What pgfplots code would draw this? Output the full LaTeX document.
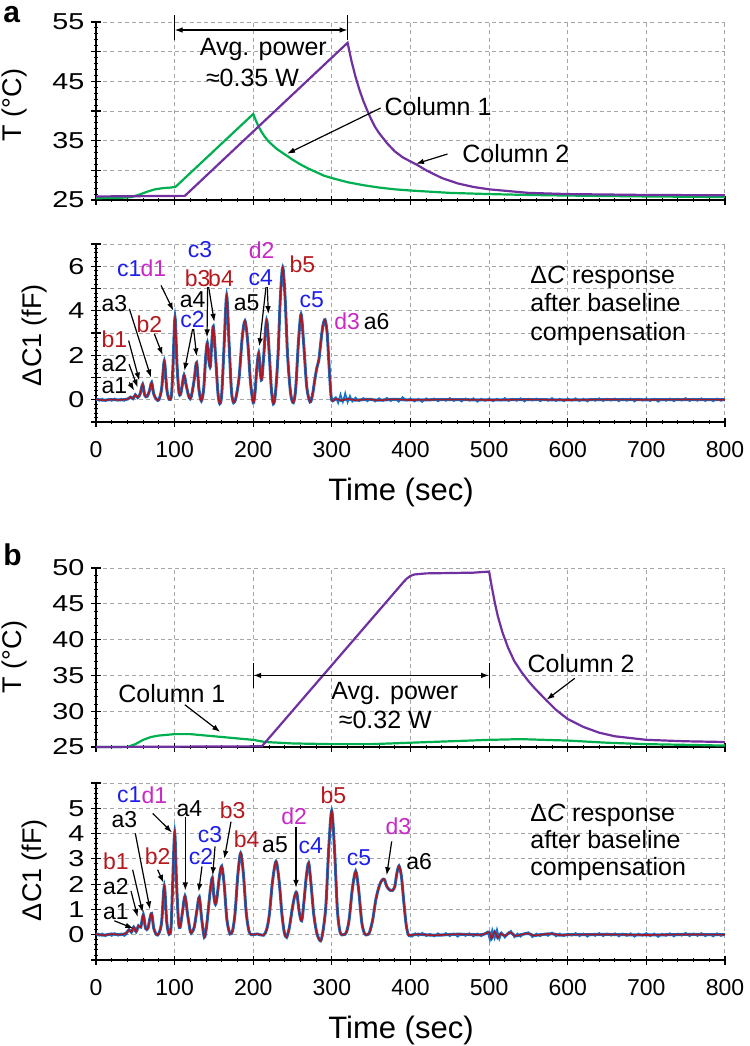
\documentclass[border=0pt]{standalone}
\usepackage{pgfplots}
\pgfplotsset{compat=1.18}
\usepackage{pgfplotstable}
\usepackage{fontspec}
\setmainfont{Liberation Sans}
\newfontfamily\stretchfont[FakeStretch=1.25]{Liberation Sans}
\usetikzlibrary{arrows.meta}
\definecolor{cgreen}{RGB}{0,176,80}
\definecolor{cpurple}{RGB}{112,48,160}
\definecolor{craw}{RGB}{20,115,200}
\definecolor{cfit}{RGB}{165,25,40}
\definecolor{lblue}{RGB}{30,30,235}
\definecolor{lmag}{RGB}{200,40,200}
\definecolor{lred}{RGB}{180,25,30}
\newcommand\ytf{\stretchfont\fontsize{11.5}{12}\selectfont}
\newcommand\xtf{\fontsize{11.5}{12}\selectfont}
\newcommand\annf{\fontsize{12.5}{14}\selectfont}
\newcommand\pkf{\fontsize{11.5}{12}\selectfont}
\newcommand\labf{\fontsize{13.5}{14}\selectfont}

\pgfplotsset{
 base/.style={scale only axis, width=314.5pt, anchor=south west,
  xmin=0, xmax=800, xtick={0,100,...,800}, minor x tick num=4,
  axis x line*=bottom, axis y line*=left, axis line style={-, line width=0.7pt},
  grid=major, grid style={dash pattern=on 2pt off 1.6pt, gray!70, line width=0.5pt},
  tick align=center, major tick length=4.5pt, minor tick length=2.2pt,
  tick style={black, line width=0.55pt}, minor tick style={line width=0.45pt},
  clip=false, yticklabel style={font=\ytf}, xticklabel style={font=\xtf, yshift=-4pt},
  /pgf/number format/assume math mode=true},
}
\tikzset{arr/.style={-{Latex[length=4pt,width=2.8pt]}, line width=0.6pt, black},
 dbl/.style={{Latex[length=4pt,width=2.8pt]}-{Latex[length=4pt,width=2.8pt]}, line width=0.6pt, black},
 pk/.style={font=\pkf, inner sep=0pt}}

% ---------- panel a temperature ----------
\pgfplotstableread{
x y
0 25.3
30 25.35
45 25.5
55 25.9
65 26.4
75 26.8
85 27.0
95 27.1
101 27.2
200 39.5
203 38.5
206 37.6
210 36.6
215 35.6
220 34.8
230 33.6
240 32.7
250 31.8
260 31.0
270 30.3
280 29.7
290 29.1
300 28.7
320 28.0
340 27.5
360 27.1
380 26.8
400 26.6
450 26.2
500 26.0
550 25.85
600 25.75
700 25.6
800 25.5
}\greenA
\pgfplotstableread{
x y
0 25.6
113 25.7
320 51.5
325 48.4
330 45.8
335 43.6
340 41.7
345 40.1
350 38.6
355 37.3
360 36.3
370 34.6
380 33.2
390 32.2
400 31.5
410 30.8
420 30.0
440 28.7
460 27.8
480 27.2
500 26.8
550 26.2
600 26.0
700 25.85
800 25.8
}\purpleA
% ---------- panel b temperature ----------
\pgfplotstableread{
x y
0 25.0
40 25.0
50 25.4
60 26.0
70 26.4
80 26.6
100 26.8
120 26.8
150 26.5
180 26.2
200 26.0
215 25.7
250 25.5
300 25.4
350 25.4
400 25.6
450 25.8
500 26.0
540 26.1
600 25.9
650 25.6
700 25.4
800 25.2
}\greenB
\pgfplotstableread{
x y
0 25.0
211 25.1
390 47.9
395 48.5
400 48.9
405 49.1
420 49.25
450 49.3
480 49.35
500 49.5
503 47.6
507 45.3
511 43.3
517 41.0
524 38.9
532 37.0
541 35.5
550 34.2
558 33.2
573 31.5
585 30.2
600 28.9
620 27.8
640 27.0
660 26.5
700 26.0
750 25.8
800 25.7
}\purpleB
% ---------- panel a capacitance ----------
\pgfplotstableread{
x y
0 0.02
10 -0.02
20 0.01
30 -0.01
40 0.03
44 0.12
47 0.05
50 0.22
53 0.1
56 0.25
59.4 0.69
62 0.2
65 0.15
68 0.4
70.8 0.77
73.5 0.25
77 0.02
80 0.0
83.5 0.5
86.9 1.74
90 0.5
93 0.02
96 0.2
98 1.6
100.5 3.69
103 1.6
105.5 0.35
107.5 0.24
109.5 0.6
112 1.11
115 0.6
118.5 0.1
121 0.12
124.5 0.8
128 1.67
131 0.45
134 -0.05
137 0.5
139.5 1.9
141.6 2.56
143.8 1.7
145.5 1.5
147 2.4
149.2 3.3
152 2.0
155 0.35
157.5 -0.18
160 0.3
163 2.5
166.2 4.67
169.3 2.5
172.3 0.4
175 -0.13
178 0.1
182 1.0
186 2.8
189.5 3.54
193 2.6
196.5 0.8
200 -0.13
202.2 0.3
204.5 1.4
207 2.1
209 1.2
210.8 0.9
213 1.8
217 3.57
220.5 2.0
223 0.5
225.6 -0.18
228.3 0.3
231.5 2.0
234.5 4.6
237.5 5.94
240.5 4.6
243.7 2.0
247.5 0.3
251 -0.13
254 0.5
257.5 2.6
260.8 3.84
264 2.6
268 0.6
272.3 -0.1
275.5 0.25
278.5 0.95
281 1.45
283.5 1.8
286 2.6
288.5 3.3
291.3 3.6
294 3.0
296.5 1.5
299 0.15
301 -0.05
305 0.04
312 -0.03
320 0.04
330 -0.02
345 0.02
360 -0.02
380 0.02
400 -0.01
450 0.01
500 -0.01
550 0.01
600 -0.01
650 0.01
700 0
750 0.01
800 0
}\dcA
\pgfplotstableread{
x y
0 0.06
4 -0.04
8 0.05
12 -0.06
16 0.04
20 -0.05
24 0.06
28 -0.04
32 0.05
36 -0.05
40 0.04
}\noiseStart
\pgfplotstableread{
x y
301 0.0
305 0.12
308 -0.15
311 0.25
314 -0.1
317 0.3
320 -0.12
323 0.18
326 -0.08
330 0.1
335 -0.06
340 0.08
345 -0.07
350 0.05
355 -0.08
360 0.07
365 -0.05
370 0.09
375 -0.06
380 0.05
385 -0.09
390 0.12
395 -0.04
400 0.06
405 -0.08
410 0.04
415 -0.1
420 0.07
425 -0.03
430 0.06
435 -0.07
440 0.05
445 -0.05
450 0.08
455 -0.06
460 0.04
465 -0.08
470 0.06
475 -0.04
480 0.07
485 -0.09
490 0.05
495 -0.05
500 0.06
505 -0.07
510 0.05
515 -0.04
520 0.08
525 -0.06
530 0.05
535 -0.05
540 0.07
545 -0.08
550 0.05
555 -0.04
560 0.06
565 -0.07
570 0.04
575 -0.05
580 0.08
585 -0.06
590 0.05
595 -0.07
600 0.06
605 -0.04
610 0.07
615 -0.06
620 0.05
625 -0.08
630 0.04
635 -0.05
640 0.07
645 -0.06
650 0.05
655 -0.04
660 0.06
665 -0.07
670 0.05
675 -0.05
680 0.06
685 -0.08
690 0.05
695 -0.04
700 0.07
705 -0.06
710 0.05
715 -0.09
720 0.04
725 -0.05
730 0.06
735 -0.07
740 0.05
745 -0.04
750 0.08
755 -0.06
760 0.05
765 -0.05
770 0.07
775 -0.06
780 0.04
785 -0.07
790 0.06
795 -0.05
800 0.03
}\noiseA
% ---------- panel b capacitance ----------
\pgfplotstableread{
x y
0 0.03
10 -0.02
20 0.03
30 0.0
38 0.05
42 0.2
45 0.1
48 0.3
51 0.12
54 0.35
57 0.3
60.2 0.79
63 0.25
66 0.25
68.3 0.6
70.8 0.84
73.5 0.25
77 0.0
80 0.05
83.5 0.5
86.9 1.92
90 0.5
93 0.02
95.5 0.3
97.5 2.0
100.1 4.02
102.5 2.0
105 0.5
107 0.29
110 0.9
113.2 1.53
116.5 0.8
120 0.12
122 0.1
125 0.3
128.5 1.0
131.4 1.49
134.5 0.6
137.8 -0.1
140.5 0.3
143.5 1.2
145.5 1.8
148 2.25
150 1.5
152 1.2
154 1.5
157 2.3
159.9 2.71
163 2.0
166.5 0.6
170.5 0.03
174 0.2
177 0.9
180.5 2.4
184 3.23
187.5 2.4
191 0.9
194.5 0.15
198 0.0
205 0.03
213 -0.02
217 0.2
220.5 0.8
224.5 2.1
229 2.9
233 2.1
236.5 0.8
239.5 0.1
242.5 -0.1
246 0.3
249.5 1.0
252.5 1.5
255.3 1.66
258.5 0.9
261.6 0.55
264.5 1.3
267.5 2.3
270.5 2.84
273.5 2.0
277 0.8
281 0.05
285.7 -0.24
289 0.2
292.5 1.2
296 3.4
299.8 4.9
303.5 3.3
307 1.0
310.5 0.1
315 0.0
318.5 0.1
322 0.6
326 1.8
330.3 2.51
334 1.8
338 0.5
341.5 0.05
345 0.0
348 0.1
352 0.6
356 1.4
360 1.9
363.5 2.15
366.7 2.19
370 1.9
374 1.76
377 1.75
380 1.9
382.5 2.4
385.4 2.72
388.5 2.3
391.5 1.3
394.5 0.4
397.3 0.0
400 -0.02
410 0.02
430 -0.02
460 0.02
490 0.0
500 0.1
503 -0.15
507 0.12
511 -0.12
515 0.05
520 -0.05
527 0.1
533 -0.05
540 0.0
550 0.05
556 -0.03
565 0.0
580 0.04
590 -0.02
600 0.0
650 0.01
700 -0.01
750 0.01
800 0
}\dcB
\pgfplotstableread{
x y
398 0.02
402 -0.08
406 0.06
410 -0.05
415 0.08
420 -0.06
425 0.04
430 -0.07
435 0.06
440 -0.04
445 0.07
450 -0.06
455 0.05
460 -0.08
465 0.04
470 -0.05
475 0.06
480 -0.07
485 0.05
490 -0.06
495 0.05
498 0.12
501 -0.22
504 0.2
507 -0.15
510 0.22
513 -0.18
516 0.08
520 -0.12
524 0.05
528 0.15
532 -0.1
536 0.05
540 -0.08
545 0.06
550 0.1
555 -0.1
560 0.05
565 -0.06
570 0.04
575 -0.05
580 0.09
585 -0.07
590 0.05
595 -0.06
600 0.05
605 -0.04
610 0.07
615 -0.06
620 0.05
625 -0.08
630 0.04
635 -0.05
640 0.07
645 -0.06
650 0.05
655 -0.04
660 0.06
665 -0.07
670 0.05
675 -0.05
680 0.06
685 -0.08
690 0.05
695 -0.04
700 0.07
705 -0.06
710 0.05
715 -0.09
720 0.04
725 -0.05
730 0.06
735 -0.07
740 0.05
745 -0.04
750 0.08
755 -0.06
760 0.05
765 -0.05
770 0.07
775 -0.06
780 0.04
785 -0.07
790 0.06
795 -0.05
800 0.03
}\noiseB

\begin{document}
\begin{tikzpicture}
\path[use as bounding box] (0,0) rectangle (375pt,-523pt);

% ===== panel a, temperature =====
\begin{axis}[base, at={(48pt,-100pt)}, height=89pt, ymin=25, ymax=55,
  ytick={25,30,...,55}, yticklabels={25,,35,,45,,55}, minor y tick num=4,
  xticklabels={,,,,,,,,,}]
\addplot[cgreen, line width=1.1pt] table {\greenA};
\addplot[cpurple, line width=1.1pt] table {\purpleA};
\draw[line width=0.6pt] (axis cs:100,52) -- (axis cs:100,56.2);
\draw[line width=0.6pt] (axis cs:320,52) -- (axis cs:320,56.2);
\draw[dbl] (axis cs:100,53.65) -- (axis cs:320,53.65);
\node[font=\annf] at (axis cs:212.8,50.3) {Avg. power};
\node[font=\annf] at (axis cs:199,45.5) {≈0.35 W};
\node[font=\annf] at (axis cs:435,40.7) {Column 1};
\draw[arr] (axis cs:362,40.5) -- (axis cs:243,32.8);
\node[font=\annf] at (axis cs:534,32.9) {Column 2};
\draw[arr] (axis cs:447,32.75) -- (axis cs:407,31.1);
\end{axis}

% ===== panel a, capacitance =====
\begin{axis}[base, at={(48pt,-211pt)}, height=89pt, ymin=-1, ymax=7,
  ytick={-1,0,...,7}, yticklabels={,0,,2,,4,,6,}, minor y tick num=4,
  xticklabels={0,100,200,300,400,500,600,700,800}]
\addplot[craw, line width=1.5pt, smooth] table {\dcA};
\addplot[craw, line width=0.8pt] table {\noiseStart};
\addplot[craw, line width=0.8pt] table {\noiseA};
\addplot[cfit, line width=0.8pt, smooth] table {\dcA};
\node[pk] at (axis cs:23.3,0.63) {a1};
\node[pk] at (axis cs:23.3,1.64) {a2};
\node[pk, text=lred] at (axis cs:23.3,2.73) {b1};
\node[pk] at (axis cs:23.3,4.31) {a3};
\node[pk, text=lred] at (axis cs:67.8,3.38) {b2};
\node[pk, text=lblue] at (axis cs:42.4,5.89) {c1};
\node[pk, text=lmag] at (axis cs:72.9,5.89) {d1};
\node[pk] at (axis cs:122.9,4.5) {a4};
\node[pk, text=lblue] at (axis cs:122.9,3.6) {c2};
\node[pk, text=lblue] at (axis cs:132.3,6.74) {c3};
\node[pk, text=lred] at (axis cs:129.3,5.48) {b3};
\node[pk, text=lred] at (axis cs:159,5.48) {b4};
\node[pk] at (axis cs:191.7,4.34) {a5};
\node[pk, text=lblue] at (axis cs:209.5,5.48) {c4};
\node[pk, text=lmag] at (axis cs:210.7,6.71) {d2};
\node[pk, text=lred] at (axis cs:262.5,6.11) {b5};
\node[pk, text=lblue] at (axis cs:274.4,4.49) {c5};
\node[pk, text=lmag] at (axis cs:319.3,3.53) {d3};
\node[pk] at (axis cs:357,3.53) {a6};
\draw[arr] (axis cs:42.4,0.78) -- (axis cs:48.7,0.41);
\draw[arr] (axis cs:42,1.6) -- (axis cs:53,0.55);
\draw[arr] (axis cs:41.5,2.66) -- (axis cs:55.1,0.86);
\draw[arr] (axis cs:42.4,4.09) -- (axis cs:70,1.0);
\draw[arr] (axis cs:74.2,2.96) -- (axis cs:84.8,2.0);
\draw[arr] (axis cs:82.7,5.14) -- (axis cs:98.4,4.0);
\draw[arr] (axis cs:122.9,3.18) -- (axis cs:112.4,1.3);
\draw[arr] (axis cs:124.2,3.18) -- (axis cs:128,1.95);
\draw[arr] (axis cs:142,5.06) -- (axis cs:141.2,2.8);
\draw[arr] (axis cs:143.3,5.06) -- (axis cs:150.5,3.5);
\draw[arr] (axis cs:216.2,5.06) -- (axis cs:207.7,2.4);
\draw[arr] (axis cs:217.9,5.06) -- (axis cs:219.2,3.85);
\node[font=\annf, anchor=west, align=left, inner sep=0pt] at (axis cs:552,4.23)
  {Δ\textit{C} response\\[0.3pt]after baseline\\[0.3pt]compensation};
\end{axis}

% ===== panel b, temperature =====
\begin{axis}[base, at={(48pt,-373.5pt)}, height=89.5pt, ymin=25, ymax=50,
  ytick={25,30,...,50}, yticklabels={25,30,35,40,45,50}, minor y tick num=4,
  xticklabels={,,,,,,,,,}]
\addplot[cgreen, line width=1.1pt] table {\greenB};
\addplot[cpurple, line width=1.1pt] table {\purpleB};
\draw[line width=0.6pt] (axis cs:200,33.2) -- (axis cs:200,36.7);
\draw[line width=0.6pt] (axis cs:500,33.2) -- (axis cs:500,36.7);
\draw[dbl] (axis cs:200,35) -- (axis cs:500,35);
\node[font=\annf] at (axis cs:380,32.5) {Avg. power};
\node[font=\annf] at (axis cs:368,28.8) {≈0.32 W};
\node[font=\annf] at (axis cs:96.5,32.5) {Column 1};
\draw[arr] (axis cs:113,30.9) -- (axis cs:158,27.1);
\node[font=\annf] at (axis cs:617,36.7) {Column 2};
\draw[arr] (axis cs:609,34.6) -- (axis cs:573,31.6);
\end{axis}

% ===== panel b, capacitance =====
\begin{axis}[base, at={(48pt,-480pt)}, height=88.5pt, ymin=-1, ymax=6,
  ytick={-1,0,...,6}, yticklabels={,0,1,2,3,4,5,}, minor y tick num=4,
  xticklabels={0,100,200,300,400,500,600,700,800}]
\addplot[craw, line width=1.5pt, smooth] table {\dcB};
\addplot[craw, line width=0.8pt] table {\noiseStart};
\addplot[craw, line width=0.8pt] table {\noiseB};
\addplot[cfit, line width=0.8pt, smooth] table {\dcB};
\node[pk] at (axis cs:25.4,0.9) {a1};
\node[pk] at (axis cs:25.4,1.92) {a2};
\node[pk, text=lred] at (axis cs:25.4,2.9) {b1};
\node[pk] at (axis cs:36,4.54) {a3};
\node[pk, text=lred] at (axis cs:78.4,3.1) {b2};
\node[pk, text=lblue] at (axis cs:42.4,5.52) {c1};
\node[pk, text=lmag] at (axis cs:74.2,5.52) {d1};
\node[pk] at (axis cs:118.7,4.99) {a4};
\node[pk, text=lblue] at (axis cs:133.6,3.1) {c2};
\node[pk, text=lblue] at (axis cs:145,3.95) {c3};
\node[pk, text=lred] at (axis cs:173.8,4.93) {b3};
\node[pk, text=lred] at (axis cs:191.7,3.78) {b4};
\node[pk] at (axis cs:227.7,3.56) {a5};
\node[pk, text=lmag] at (axis cs:251.9,4.69) {d2};
\node[pk, text=lblue] at (axis cs:273.1,3.52) {c4};
\node[pk, text=lred] at (axis cs:301.9,5.52) {b5};
\node[pk, text=lblue] at (axis cs:334.6,3.06) {c5};
\node[pk, text=lmag] at (axis cs:384.6,4.27) {d3};
\node[pk] at (axis cs:410.9,2.9) {a6};
\draw[arr] (axis cs:23.3,0.55) -- (axis cs:47.5,0.25);
\draw[arr] (axis cs:44.5,1.73) -- (axis cs:53,0.7);
\draw[arr] (axis cs:46.6,2.57) -- (axis cs:59.4,0.88);
\draw[arr] (axis cs:50,4.01) -- (axis cs:68.7,1.0);
\draw[arr] (axis cs:78.4,2.57) -- (axis cs:86,2.05);
\draw[arr] (axis cs:72.1,4.8) -- (axis cs:96.7,4.04);
\draw[arr] (axis cs:113.6,4.67) -- (axis cs:113.6,1.75);
\draw[arr] (axis cs:134.8,2.7) -- (axis cs:130.6,1.7);
\draw[arr] (axis cs:151.4,3.49) -- (axis cs:148.4,2.35);
\draw[arr] (axis cs:171.7,4.47) -- (axis cs:163.2,3.0);
\draw[arr] (axis cs:254.4,4.27) -- (axis cs:254.4,1.85);
\draw[arr] (axis cs:376.1,3.69) -- (axis cs:369.7,2.35);
\node[font=\annf, anchor=west, align=left, inner sep=0pt] at (axis cs:552,3.64)
  {Δ\textit{C} response\\[-0.5pt]after baseline\\[-0.5pt]compensation};
\end{axis}

% ===== outer labels =====
\node[rotate=90, anchor=base, font=\labf] at (10.5pt,-52.5pt) {T (°C)};
\node[rotate=90, anchor=base, font=\labf] at (20.5pt,-167.5pt) {ΔC1 (fF)};
\node[rotate=90, anchor=base, font=\labf] at (10.5pt,-328.5pt) {T (°C)};
\node[rotate=90, anchor=base, font=\labf] at (20.5pt,-435pt) {ΔC1 (fF)};
\node[anchor=base, font=\fontsize{15.5}{16}\selectfont] at (200.5pt,-250pt) {Time (sec)};
\node[anchor=base, font=\fontsize{15.5}{16}\selectfont] at (200.5pt,-519pt) {Time (sec)};
\node[anchor=base west, inner sep=0pt, font=\bfseries\fontsize{15}{15}\selectfont] at (1.5pt,-11pt) {a};
\node[anchor=base west, inner sep=0pt, font=\bfseries\fontsize{15}{15}\selectfont] at (1.5pt,-282.5pt) {b};
\end{tikzpicture}
\end{document}
